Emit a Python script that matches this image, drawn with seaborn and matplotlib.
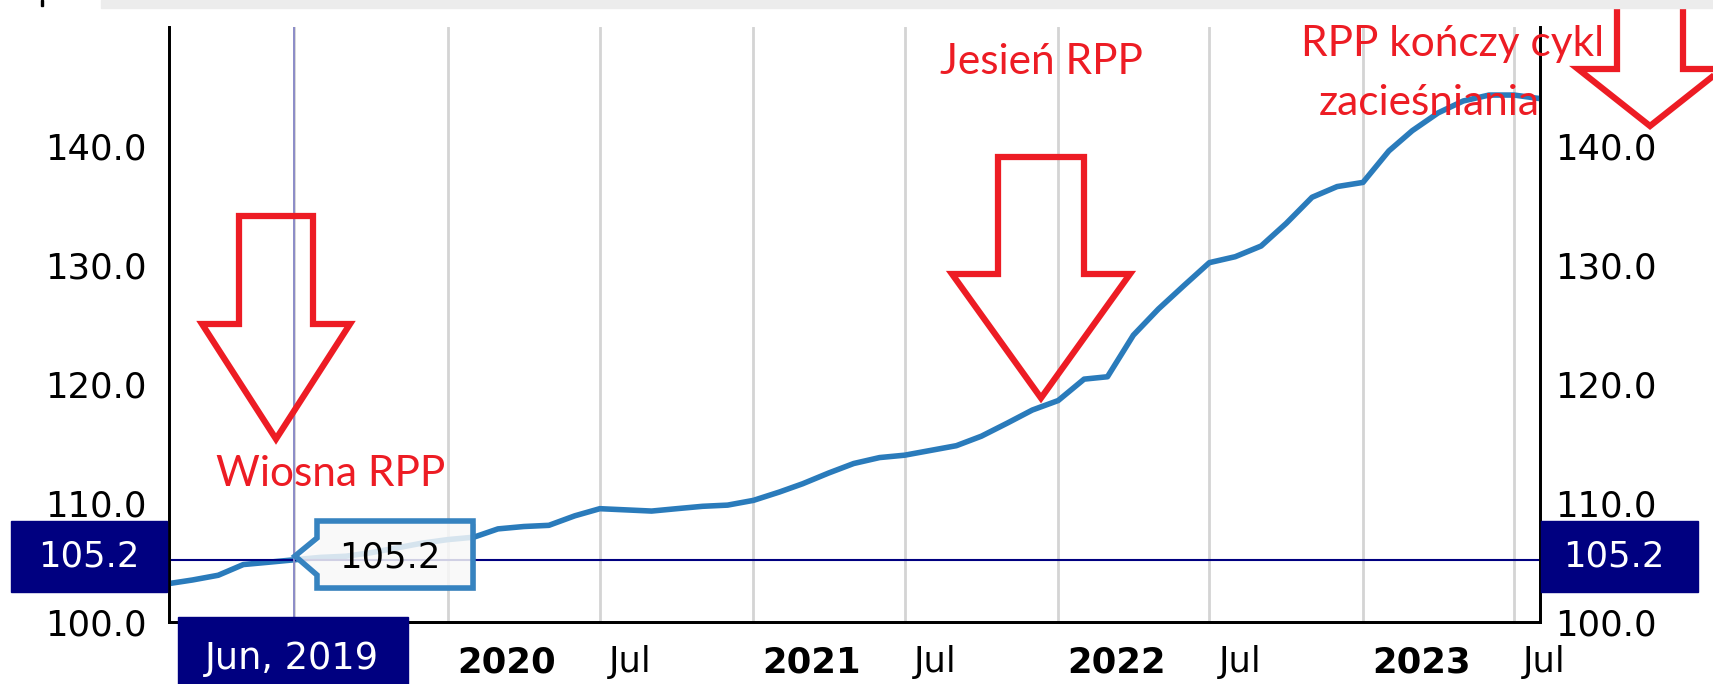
import numpy as np
import pandas as pd
import matplotlib
matplotlib.use("Agg")
import matplotlib.pyplot as plt
import matplotlib.dates as mdates
from matplotlib.patches import Polygon, Rectangle
from matplotlib.transforms import ScaledTranslation
import seaborn as sns

# monthly index, Jan 2019 .. Jul 2023 (plotted at end of month)
months = pd.period_range("2019-01", "2023-07", freq="M")
values = [
    103.2, 103.5, 103.9, 104.8, 105.0, 105.2, 105.4, 105.5, 105.8, 106.2, 106.6, 106.9,  # 2019
    107.1, 107.8, 108.0, 108.1, 108.9, 109.5, 109.4, 109.3, 109.5, 109.7, 109.8, 110.2,  # 2020
    110.9, 111.6, 112.5, 113.3, 113.8, 114.0, 114.4, 114.8, 115.6, 116.7, 117.8, 118.6,  # 2021
    120.4, 120.6, 124.1, 126.3, 128.3, 130.2, 130.7, 131.6, 133.5, 135.7, 136.6, 136.95,  # 2022
    139.6, 141.3, 142.8, 143.8, 144.3, 144.3, 144.0,  # 2023
]
ref_value = 105.2
ref_label = "Jun, 2019"
tick_dates = ["2019-07-01", "2020-01-01", "2020-07-01", "2021-01-01", "2021-07-01",
              "2022-01-01", "2022-07-01", "2023-01-01", "2023-07-01"]
tick_labels = ["", "2020", "Jul", "2021", "Jul", "2022", "Jul", "2023", "Jul"]
y_ticks = [100, 110, 120, 130, 140]
notes = ["Wiosna RPP", "Jesień RPP", "RPP kończy cykl", "zacieśniania"]

df = pd.DataFrame({"date": months.to_timestamp(how="end").normalize() + pd.Timedelta(days=1),
                   "value": values})

W, H = 1713, 684
RED = "#ed1c24"
NAVY = "#000080"
LINE = "#2a7bbb"
FS = 25.5

sns.set_style("white")
plt.rcParams["font.family"] = ["DejaVu Sans"]
plt.rcParams["text.color"] = "black"
plt.rcParams["xtick.color"] = "black"
plt.rcParams["ytick.color"] = "black"

fig = plt.figure(figsize=(W / 100, H / 100), dpi=100)
ax = fig.add_axes([169 / W, 1 - 621.6 / H, (1540 - 169) / W, (621.6 - 27.3) / H])

sns.lineplot(data=df, x="date", y="value", ax=ax, color=LINE, lw=4, zorder=3)

ax.set_xlim(pd.Timestamp("2019-02-01"), pd.Timestamp("2023-08-01"))
ax.set_ylim(100, 150)
ax.set_xlabel("")
ax.set_ylabel("")

# x axis: half-year grid, labels to the right of each line
ax.set_xticks(pd.to_datetime(tick_dates))
ax.set_xticklabels(tick_labels)
ax.grid(axis="x", color="#d4d4d4", lw=2)
ax.grid(axis="y", visible=False)
ax.tick_params(axis="x", length=0, pad=17, labelsize=FS)
off = ScaledTranslation(9 / 100, 0, fig.dpi_scale_trans)
for lab in ax.get_xticklabels():
    lab.set_ha("left")
    lab.set_transform(lab.get_transform() + off)
    if lab.get_text().isdigit():
        lab.set_fontweight("bold")

ax.set_yticks(y_ticks)
ax.set_yticklabels([f"{v:.1f}" for v in y_ticks])
ax.tick_params(axis="y", length=0, pad=16, labelsize=FS)

ax2 = ax.twinx()
ax2.set_ylim(ax.get_ylim())
ax2.set_yticks(y_ticks)
ax2.set_yticklabels([f"{v:.1f}" for v in y_ticks])
ax2.tick_params(axis="y", length=0, pad=11, labelsize=FS)

for a in (ax, ax2):
    a.spines["top"].set_visible(False)
    for s in ("left", "right", "bottom"):
        a.spines[s].set_color("black")
        a.spines[s].set_linewidth(2)

# crosshair on Jun 2019
ref_x = df["date"].iloc[5]
ax.axhline(ref_value, color=NAVY, lw=1.5, zorder=4)
ax.axvline(ref_x, color="#8c8cc8", lw=1.4, zorder=4)


def fpx(x, y):
    return (x / W, 1 - y / H)


def add_poly(pts, **kw):
    p = Polygon([fpx(x, y) for x, y in pts], closed=True, transform=fig.transFigure, **kw)
    fig.add_artist(p)


def add_box(x0, y0, x1, y1, text, tx=None, size=FS, color="white"):
    fig.add_artist(Rectangle(fpx(x0, y1), (x1 - x0) / W, (y1 - y0) / H,
                             transform=fig.transFigure, color=NAVY, zorder=5))
    cx = (x0 + x1) / 2 if tx is None else tx
    fig.text(*fpx(cx, (y0 + y1) / 2), text, color=color, fontsize=size,
             ha="center", va="center", zorder=6)


# value boxes on both axes and the date box
add_box(11, 521, 167, 592, "105.2")
add_box(1541, 521, 1698, 592, "105.2", tx=1614)
add_box(178, 617, 408, 700, ref_label, tx=292, size=26.5)

# tooltip
tip = [(317, 521), (473, 521), (473, 588), (317, 588), (317, 575), (295, 556), (317, 538)]
add_poly([(x + 3, y + 3) for x, y in tip], facecolor="#000000", alpha=0.12, edgecolor="none", zorder=5)
add_poly(tip, facecolor=(1, 1, 1, 0.82), edgecolor="#3683c0", lw=4, joinstyle="miter", zorder=6)
fig.text(*fpx(390, 557), "105.2", fontsize=FS, ha="center", va="center", zorder=7)


# hollow red arrows
def arrow(cx, top, base, tip_y, shaft_w, head_w):
    s, h = shaft_w / 2, head_w / 2
    pts = [(cx - s, top), (cx + s, top), (cx + s, base), (cx + h, base),
           (cx, tip_y), (cx - h, base), (cx - s, base)]
    add_poly(pts, fill=False, edgecolor=RED, lw=4.5, joinstyle="miter", zorder=8)


arrow(276, 216, 324, 439, 74, 148)
arrow(1041, 157, 274, 398, 86, 178)
arrow(1650, -20, 69, 126, 66, 144)

# notes
red_font = dict(color=RED, fontsize=30.5, family=["Lato", "DejaVu Sans"], ha="center", va="center", zorder=9)
fig.text(*fpx(331, 474), notes[0], **red_font)
fig.text(*fpx(1041, 62), notes[1], **red_font)
fig.text(*fpx(1453, 44), notes[2], **red_font)
fig.text(*fpx(1429, 103), notes[3], **red_font)

# light band along the top edge
fig.add_artist(Rectangle(fpx(101, 8), (W - 101) / W, 8 / H, transform=fig.transFigure,
                         color="#ececec", zorder=10))
fig.add_artist(Rectangle(fpx(41, 6), 2 / W, 6 / H, transform=fig.transFigure,
                         color="black", zorder=10))

fig.savefig("out.png", dpi=100)
